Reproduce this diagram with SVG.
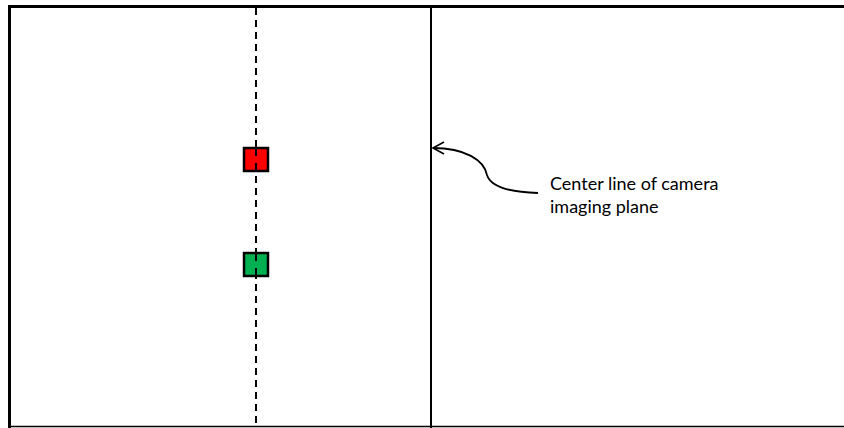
<svg xmlns="http://www.w3.org/2000/svg" width="844" height="428" viewBox="0 0 844 428">
  <style>
    .frame { stroke: #000; fill: none; }
    .axis { stroke: #000; stroke-width: 2; stroke-dasharray: 7 5; fill: none; }
    .marker-box { stroke: #000; stroke-width: 2.5; }
    .label { font-family: Lato, "Open Sans", "Liberation Sans", sans-serif; font-size: 18px; fill: #000; }
  </style>
  <defs>
    <marker id="openArrow" markerWidth="16" markerHeight="16" refX="13" refY="7" orient="auto" markerUnits="userSpaceOnUse">
      <path d="M2,1 L13,7 L2,13" fill="none" stroke="#000" stroke-width="1.6"/>
    </marker>
  </defs>
  <rect width="844" height="428" fill="#fff"/>

  <!-- outer frame -->
  <g id="frame">
    <line class="frame" x1="8" y1="6.5" x2="844" y2="6.5" stroke-width="3"/>
    <line class="frame" x1="9.5" y1="5" x2="9.5" y2="428" stroke-width="3"/>
    <line class="frame" x1="8" y1="426.5" x2="844" y2="426.5" stroke-width="1.5"/>
  </g>

  <!-- imaging plane centre line -->
  <g id="center-line">
    <line class="frame" x1="431" y1="6" x2="431" y2="428" stroke-width="2"/>
  </g>

  <!-- dashed axis and callout -->
  <g id="connectors">
    <line class="axis" x1="256" y1="8" x2="256" y2="428"/>
    <path d="M538,193 C505,192 490,185 487,175 C484,160 465,148 433,148" fill="none" stroke="#000" stroke-width="1.8" marker-end="url(#openArrow)"/>
  </g>

  <g id="red-marker">
    <rect class="marker-box" x="244" y="148" width="24" height="23" fill="#ff0000"/>
    <line x1="256" y1="149" x2="256" y2="156" stroke="#000" stroke-width="2"/>
    <line x1="256" y1="163" x2="256" y2="170" stroke="#000" stroke-width="2"/>
  </g>

  <g id="green-marker">
    <rect class="marker-box" x="244" y="253" width="24" height="23" fill="#00b050"/>
    <line x1="256" y1="254" x2="256" y2="261" stroke="#000" stroke-width="2"/>
    <line x1="256" y1="268" x2="256" y2="275" stroke="#000" stroke-width="2"/>
  </g>

  <g id="label">
    <text class="label" x="550" y="190">Center line of camera</text>
    <text class="label" x="550" y="213">imaging plane</text>
  </g>
</svg>
